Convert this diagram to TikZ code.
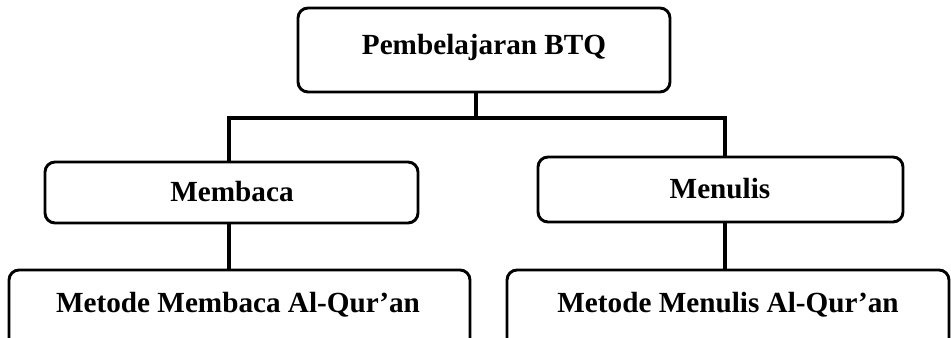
\documentclass[tikz,border=0pt]{standalone}
\usepackage{fontspec}
\setmainfont{Liberation Serif}
\begin{document}
\begin{tikzpicture}[x=0.75pt,y=-0.75pt,
  box/.style={draw=black, line width=2.2pt, rounded corners=7.5pt, fill=white, inner sep=0pt, outer sep=0pt},
  lbl/.style={font=\bfseries\fontsize{21.9pt}{26pt}\selectfont, anchor=base, inner sep=0pt},
  conn/.style={draw=black, line width=2.6pt}]
\useasboundingbox (0,0) rectangle (951,338);
\clip (0,0) rectangle (951,338);
\fill[white] (0,0) rectangle (951,338);
% boxes
\node[box, minimum width=279pt, minimum height=63pt] (top) at (484,50) {};
\node[box, minimum width=279.75pt, minimum height=45.75pt] (mb) at (231.5,192.5) {};
\node[box, minimum width=273.75pt, minimum height=48.75pt] (ms) at (720.5,189.5) {};
\node[box, minimum width=345.75pt, minimum height=60pt] (mmb) at (239.5,310) {};
\node[box, minimum width=331.5pt, minimum height=60pt] (mms) at (728,310) {};
% labels
\node[lbl] (toptxt) at (484,55) {Pembelajaran BTQ};
\node[lbl] (mbtxt) at (232,202) {Membaca};
\node[lbl] (mstxt) at (720,199) {Menulis};
\node[lbl] (mmbtxt) at (238,313) {Metode Membaca Al-Qur’an};
\node[lbl] (mmstxt) at (728,313) {Metode Menulis Al-Qur’an};
% connectors
\coordinate (j) at (476,118);
\coordinate (jl) at (229,118);
\coordinate (jr) at (725,118);
\draw[conn] (top.south -| j) -- (j);
\draw[conn] (jl |- mb.north) -- (jl) -- (jr) -- (jr |- ms.north);
\draw[conn] (mb.south -| jl) -- (mmb.north -| jl);
\draw[conn] (ms.south -| jr) -- (mms.north -| jr);
\end{tikzpicture}
\end{document}
